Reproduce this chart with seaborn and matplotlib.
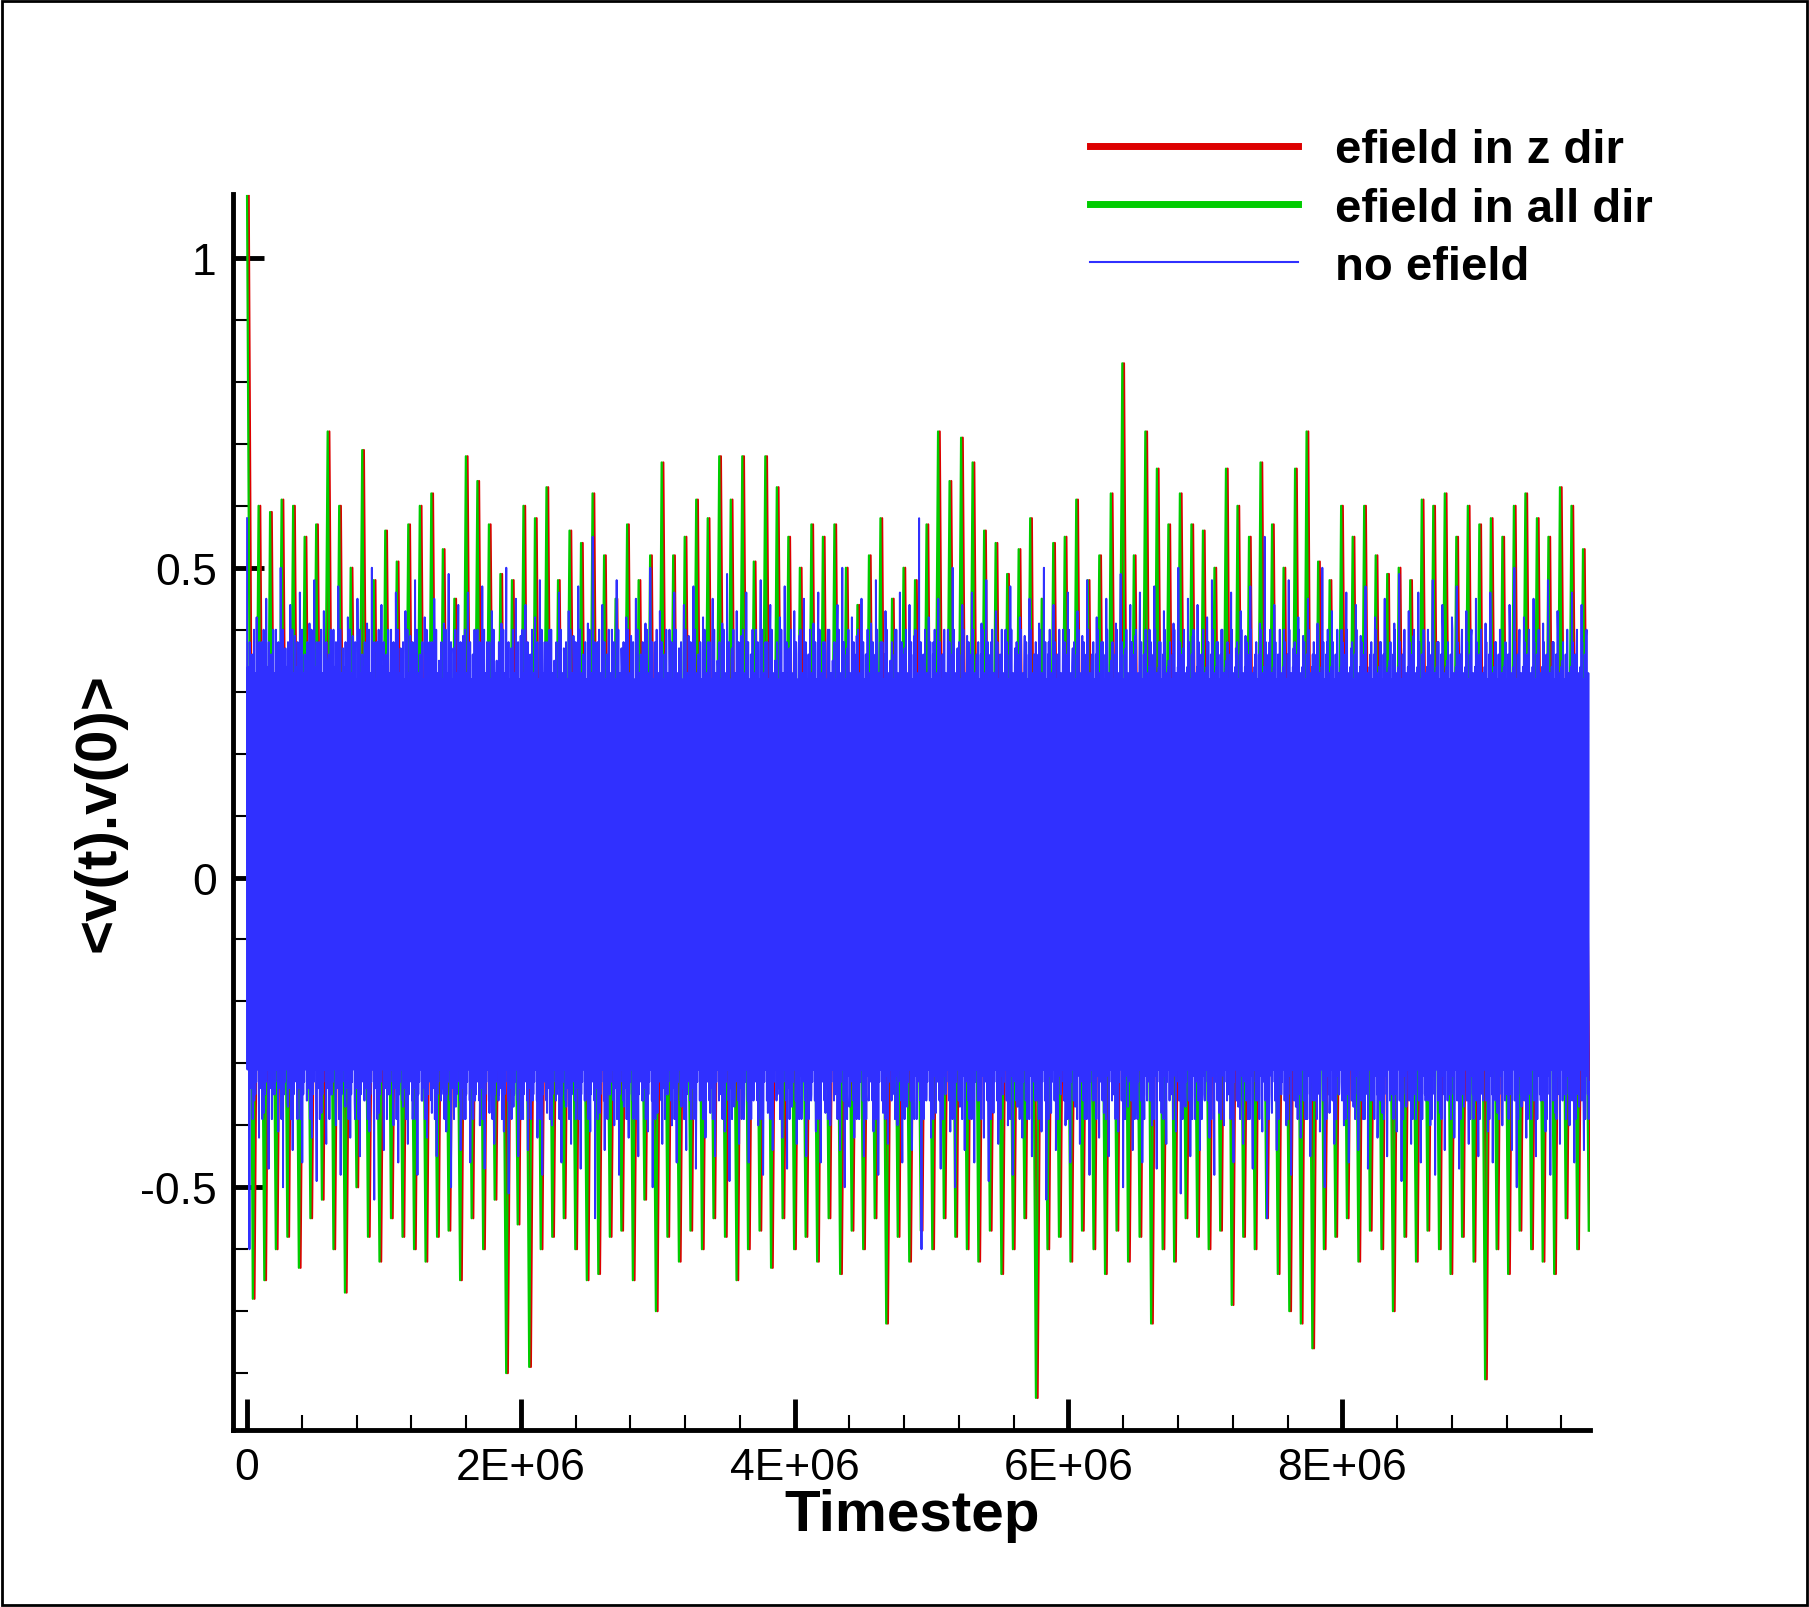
import matplotlib.pyplot as plt
import numpy as np
import seaborn as sns

# Peak envelopes (green/red series), left to right
GREEN_TOP = [1.10, 0.60, 0.59, 0.61, 0.60, 0.55, 0.57, 0.72, 0.60, 0.50, 0.69, 0.48,
             0.56, 0.51, 0.57, 0.60, 0.62, 0.53, 0.45, 0.68, 0.64, 0.57, 0.49, 0.48,
             0.60, 0.58, 0.63, 0.48, 0.56, 0.54, 0.62, 0.52, 0.45, 0.57, 0.48, 0.52,
             0.67, 0.52, 0.55, 0.61, 0.58, 0.68, 0.61, 0.68, 0.51, 0.68, 0.63, 0.55,
             0.50, 0.57, 0.55, 0.57, 0.50, 0.44, 0.52, 0.58, 0.45, 0.50, 0.48, 0.57,
             0.72, 0.64, 0.71, 0.67, 0.56, 0.54, 0.49, 0.53, 0.58, 0.45, 0.54, 0.55,
             0.61, 0.48, 0.52, 0.62, 0.83, 0.52, 0.72, 0.66, 0.57, 0.62, 0.57, 0.56,
             0.50, 0.66, 0.60, 0.55, 0.67, 0.57, 0.50, 0.66, 0.72, 0.51, 0.48, 0.60,
             0.55, 0.60, 0.52, 0.49, 0.50, 0.48, 0.61, 0.60, 0.62, 0.55, 0.60, 0.57,
             0.58, 0.55, 0.60, 0.62, 0.58, 0.55, 0.63, 0.60, 0.53]
GREEN_BOT = [-0.68, -0.65, -0.60, -0.58, -0.63, -0.55, -0.52, -0.60, -0.67, -0.50,
             -0.58, -0.62, -0.55, -0.58, -0.60, -0.62, -0.58, -0.57, -0.65, -0.55,
             -0.60, -0.52, -0.80, -0.56, -0.79, -0.60, -0.58, -0.55, -0.60, -0.65,
             -0.64, -0.58, -0.57, -0.65, -0.52, -0.70, -0.58, -0.62, -0.57, -0.60,
             -0.55, -0.58, -0.65, -0.60, -0.57, -0.63, -0.55, -0.60, -0.58, -0.62,
             -0.55, -0.64, -0.57, -0.60, -0.55, -0.72, -0.58, -0.62, -0.57, -0.60,
             -0.55, -0.58, -0.60, -0.62, -0.57, -0.64, -0.60, -0.55, -0.84, -0.60,
             -0.58, -0.62, -0.57, -0.60, -0.64, -0.57, -0.62, -0.58, -0.72, -0.60,
             -0.62, -0.55, -0.58, -0.60, -0.57, -0.69, -0.58, -0.60, -0.55, -0.64,
             -0.70, -0.72, -0.76, -0.60, -0.58, -0.55, -0.62, -0.57, -0.60, -0.70,
             -0.58, -0.62, -0.57, -0.60, -0.64, -0.58, -0.62, -0.81, -0.60, -0.64,
             -0.57, -0.60, -0.62, -0.64, -0.55, -0.60, -0.57, -0.55, -0.62]
# Blue (no efield) spikes
BLUE_TOP = [0.58, 0.35, 0.42, 0.38, 0.45, 0.36, 0.40, 0.50, 0.37, 0.44, 0.39, 0.46,
            0.36, 0.41, 0.48, 0.38, 0.43, 0.35, 0.40, 0.47, 0.37, 0.42, 0.39, 0.45,
            0.36, 0.41, 0.50, 0.38, 0.44, 0.35, 0.40, 0.46, 0.37, 0.43, 0.39, 0.48,
            0.36, 0.42, 0.38, 0.45, 0.35, 0.41, 0.49, 0.37, 0.44, 0.39, 0.46, 0.36,
            0.40, 0.47, 0.38, 0.43, 0.35, 0.41, 0.50, 0.37, 0.45, 0.39, 0.44, 0.36,
            0.42, 0.48, 0.38, 0.40, 0.35, 0.46, 0.37, 0.43, 0.39, 0.47, 0.36, 0.41,
            0.55, 0.38, 0.44, 0.35, 0.40, 0.48, 0.37, 0.42, 0.39, 0.45, 0.36, 0.41,
            0.50, 0.38, 0.43, 0.35, 0.40, 0.46, 0.37, 0.44, 0.39, 0.47, 0.36, 0.42,
            0.38, 0.45, 0.35, 0.41, 0.49, 0.37, 0.43, 0.39, 0.46, 0.36, 0.40, 0.48,
            0.38, 0.44, 0.35, 0.42, 0.47, 0.37, 0.43, 0.39, 0.45, 0.36, 0.41, 0.46,
            0.38, 0.40, 0.35, 0.44, 0.50, 0.37, 0.42, 0.39, 0.45, 0.36, 0.41, 0.48,
            0.38, 0.43, 0.35, 0.40, 0.46, 0.37, 0.44, 0.39]
BLUE_BOT = [-0.60, -0.36, -0.42, -0.38, -0.47, -0.35, -0.41, -0.50, -0.37, -0.44,
            -0.39, -0.46, -0.36, -0.42, -0.49, -0.38, -0.43, -0.35, -0.40, -0.48,
            -0.37, -0.42, -0.39, -0.45, -0.36, -0.41, -0.52, -0.38, -0.44, -0.35,
            -0.40, -0.46, -0.37, -0.43, -0.39, -0.48, -0.36, -0.42, -0.38, -0.45,
            -0.35, -0.41, -0.50, -0.37, -0.44, -0.39, -0.46, -0.36, -0.40, -0.47,
            -0.38, -0.43, -0.35, -0.41, -0.51, -0.37, -0.45, -0.39, -0.44, -0.36,
            -0.42, -0.48, -0.38, -0.40, -0.35, -0.46, -0.37, -0.43, -0.39, -0.47,
            -0.36, -0.41, -0.55, -0.38, -0.44, -0.35, -0.40, -0.48, -0.37, -0.42,
            -0.39, -0.45, -0.36, -0.41, -0.50, -0.38, -0.43, -0.35, -0.40, -0.46,
            -0.37, -0.44, -0.39, -0.47, -0.36, -0.42, -0.38, -0.45, -0.35, -0.41,
            -0.49, -0.37, -0.43, -0.39, -0.46, -0.36, -0.40, -0.48, -0.38, -0.44,
            -0.35, -0.42, -0.47, -0.37, -0.43, -0.39, -0.45, -0.36, -0.41, -0.46,
            -0.38, -0.40, -0.35, -0.44, -0.50, -0.37, -0.42, -0.39, -0.45, -0.36,
            -0.41, -0.48, -0.38, -0.43, -0.35, -0.40, -0.46, -0.37, -0.44, -0.39]
# Dense core oscillation of the blue series
CORE_TOP = [0.30, 0.34, 0.27, 0.38, 0.32, 0.29, 0.36, 0.31, 0.40, 0.28, 0.33]
CORE_BOT = [-0.31, -0.27, -0.36, -0.30, -0.34, -0.28, -0.39, -0.32, -0.29, -0.35, -0.33]
T_END = 9.8e6
X_TICKS = [0, 2e6, 4e6, 6e6, 8e6]
X_LABELS = ["0", "2E+06", "4E+06", "6E+06", "8E+06"]
Y_TICKS = [-0.5, 0, 0.5, 1]
Y_LABELS = ["-0.5", "0", "0.5", "1"]


def zigzag(top, bot, reps):
    """Alternate top/bottom values, repeated to form a dense oscillation."""
    vals = []
    for _ in range(reps):
        for t, b in zip(top, bot):
            vals += [t, b]
    return np.array(vals)


plt.rcParams["font.family"] = "Liberation Sans"
fig = plt.figure(figsize=(18.09, 16.08), dpi=100)
ax = fig.add_axes([0.129, 0.110, 0.750, 0.769])

g = zigzag(GREEN_TOP, GREEN_BOT, 1)
tg = np.linspace(0, T_END, len(g))
sns.lineplot(x=tg + 12000, y=g, sort=False, estimator=None, color="#dd0000",
             linewidth=1.6, ax=ax, label="efield in z dir")
sns.lineplot(x=tg, y=g, sort=False, estimator=None, color="#00cc00",
             linewidth=1.6, ax=ax, label="efield in all dir")

b = zigzag(BLUE_TOP, BLUE_BOT, 2)
tb = np.linspace(0, T_END, len(b))
c = zigzag(CORE_TOP, CORE_BOT, 140)
tc = np.linspace(0, T_END, len(c))
tall = np.concatenate([tb, tc])
vall = np.concatenate([b, c])
order = np.argsort(tall, kind="stable")
sns.lineplot(x=tall[order], y=vall[order], sort=False, estimator=None,
             color="#3030ff", linewidth=1.4, ax=ax, label="no efield")

ax.set_xlim(-0.1e6, 9.81e6)
ax.set_ylim(-0.892, 1.104)
ax.set_xticks(X_TICKS, X_LABELS)
ax.set_yticks(Y_TICKS, Y_LABELS)
ax.set_xticks(np.arange(0, 9.8e6, 0.4e6), minor=True)
ax.set_yticks(np.arange(-0.8, 1.1, 0.1), minor=True)
ax.tick_params(axis="both", which="major", direction="in", length=22, width=3.5,
               labelsize=32, pad=12)
ax.tick_params(axis="both", which="minor", direction="in", length=11, width=1.5)
for s in ["top", "right"]:
    ax.spines[s].set_visible(False)
for s in ["left", "bottom"]:
    ax.spines[s].set_linewidth(3.5)
ax.set_xlabel("Timestep", fontsize=42, fontweight="bold", labelpad=0)
ax.set_ylabel("<v(t).v(0)>", fontsize=42, fontweight="bold", labelpad=10)

leg = ax.legend(loc="upper left", bbox_to_anchor=(0.60, 1.087), frameon=False,
                fontsize=34, handlelength=4.4, labelspacing=0.3)
for t in leg.get_texts():
    t.set_fontweight("bold")
for h in leg.get_lines():
    h.set_linewidth(5)
leg.get_lines()[2].set_linewidth(1.5)

fig.patches.append(plt.Rectangle((0.001, 0.001), 0.998, 0.998, transform=fig.transFigure,
                                 fill=False, edgecolor="black", linewidth=2))
fig.savefig("out.png", dpi=100)
